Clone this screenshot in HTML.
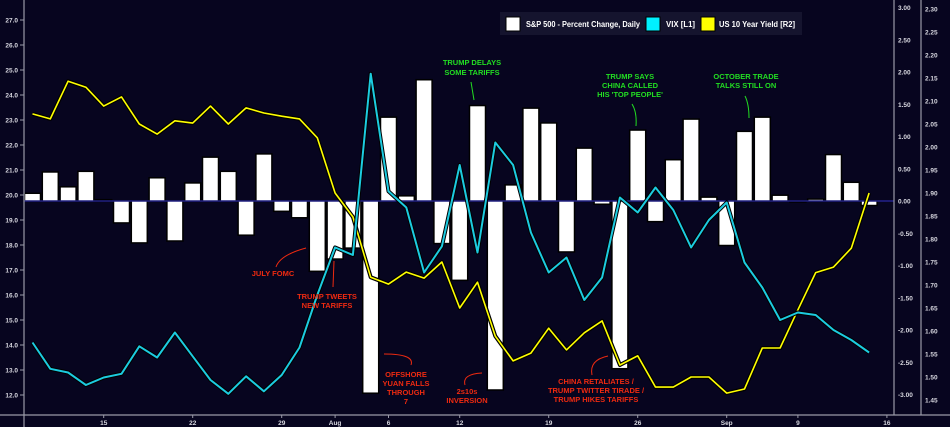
<!DOCTYPE html>
<html><head><meta charset="utf-8"><style>
html,body{margin:0;padding:0;background:#07051f;}
svg{display:block;font-family:"Liberation Sans",sans-serif;}
</style></head><body>
<svg id="chart" width="950" height="427" viewBox="0 0 950 427">
<rect x="0" y="0" width="950" height="427" fill="#07051f"/>
<g id="grid"></g><g id="bars"></g><g id="lines"></g><g id="axes"></g><g id="annos"></g>
<g>
<rect x="500" y="12" width="302" height="23" fill="#15142e"/>
<rect x="506" y="17" width="14" height="14" fill="#fff" stroke="#000"/>
<text x="526" y="27" fill="#fff" font-size="8" font-weight="bold" textLength="114" lengthAdjust="spacingAndGlyphs">S&amp;P 500 - Percent Change, Daily</text>
<rect x="646" y="17" width="14" height="14" fill="#00f0ff" stroke="#000"/>
<text x="666" y="27" fill="#fff" font-size="8" font-weight="bold" textLength="29" lengthAdjust="spacingAndGlyphs">VIX [L1]</text>
<rect x="701" y="17" width="14" height="14" fill="#ffff00" stroke="#000"/>
<text x="719" y="27" fill="#fff" font-size="8" font-weight="bold" textLength="76" lengthAdjust="spacingAndGlyphs">US 10 Year Yield [R2]</text>
</g>
</svg>
<script>
const spChange=[0.12,0.45,0.22,0.46,0.02,-0.34,-0.65,0.36,-0.62,0.28,0.68,0.46,-0.53,0.73,-0.16,-0.26,-1.09,-0.90,-0.73,-2.98,1.30,0.08,1.88,-0.66,-1.23,1.48,-2.93,0.25,1.44,1.21,-0.79,0.82,-0.05,-2.60,1.10,-0.32,0.64,1.27,0.06,-0.69,1.08,1.30,0.09,-0.01,0.03,0.72,0.29,-0.07];
const vix=[14.1,13.05,12.9,12.4,12.7,12.85,13.95,13.5,14.5,13.55,12.6,12.05,12.75,12.15,12.8,13.9,16.0,17.9,17.6,24.85,20.15,19.5,16.9,17.95,21.2,17.7,22.1,21.2,18.5,16.9,17.5,15.8,16.7,19.9,19.3,20.3,19.4,17.9,19.0,19.7,17.3,16.3,15.0,15.3,15.2,14.6,14.2,13.7];
const yld=[2.072,2.061,2.143,2.130,2.089,2.109,2.050,2.028,2.057,2.052,2.089,2.050,2.085,2.074,2.067,2.061,2.02,1.90,1.848,1.717,1.702,1.728,1.715,1.750,1.65,1.706,1.589,1.535,1.552,1.606,1.559,1.596,1.622,1.526,1.546,1.478,1.478,1.50,1.50,1.465,1.474,1.563,1.563,1.646,1.727,1.739,1.780,1.90];
const xTickLabels=["15","22","29","Aug","6","12","19","26","Sep","9","16"];
const xTickIdx=[4,9,14,17,20,24,29,34,39,43,48];
const leftTicks=[12,13,14,15,16,17,18,19,20,21,22,23,24,25,26,27];
const r1Ticks=[3,2.5,2,1.5,1,0.5,0,-0.5,-1,-1.5,-2,-2.5,-3];
const r2Ticks=[2.30,2.25,2.20,2.15,2.10,2.05,2.00,1.95,1.90,1.85,1.80,1.75,1.70,1.65,1.60,1.55,1.50,1.45];

const NS="http://www.w3.org/2000/svg";
const X=i=>32.5+17.8*i;
const yL=v=>195-(v-20)*25;
const yR1=v=>201-v*64.5;
const yR2=v=>193-(v-1.90)*460;
function mk(tag,attrs,parent,txt){const e=document.createElementNS(NS,tag);for(const k in attrs)e.setAttribute(k,attrs[k]);if(txt!==undefined)e.textContent=txt;document.getElementById(parent).appendChild(e);return e;}

spChange.forEach((v,i)=>{
  const y0=yR1(0),y1=yR1(v);
  const b=mk('rect',{x:X(i)-8,y:Math.min(y0,y1),width:16,height:Math.max(Math.abs(y1-y0),1),fill:'#fff',stroke:'#000','stroke-width':1.5},'bars');
  
  
});
const zl=mk('line',{x1:24,x2:894,y1:yR1(0),y2:yR1(0),stroke:'#3030c0','stroke-width':1},'bars');



function line(vals,fy,color,name){
  const d=vals.map((v,i)=>(i?'L':'M')+X(i).toFixed(1)+' '+fy(v).toFixed(1)).join(' ');
  mk('path',{d:d,fill:'none',stroke:'#000','stroke-width':4,'stroke-linejoin':'round'},'lines');
  const p=mk('path',{d:d,fill:'none',stroke:color,'stroke-width':color=='#ffff00'?1.6:2,'stroke-linejoin':'round'},'lines');
  
  
}
line(yld,yR2,'#ffff00','yield-line');
line(vix,yL,'#1ccbe0','vix-line');

[[24,0,24,427],[894,0,894,415],[921,0,921,415],[0,415,950,415]].forEach(a=>{
  const l=mk('line',{x1:a[0],y1:a[1],x2:a[2],y2:a[3],stroke:'#9a9aa8','stroke-width':1.2},'axes');
  
  
});
leftTicks.forEach(v=>{
  const t=mk('text',{x:18,y:yL(v)+2.5,fill:'#d8d8e0','font-size':6.5,'font-weight':'bold','text-anchor':'end'},'axes',v.toFixed(1));
  
  
  mk('line',{x1:20,x2:24,y1:yL(v),y2:yL(v),stroke:'#9a9aa8'},'axes');
});
r1Ticks.forEach(v=>{
  const t=mk('text',{x:898,y:yR1(v)+2.5,fill:'#d8d8e0','font-size':6.5,'font-weight':'bold'},'axes',v.toFixed(2));
  
  
});
r2Ticks.forEach(v=>{
  const t=mk('text',{x:925,y:yR2(v)+2.5,fill:'#d8d8e0','font-size':6.5,'font-weight':'bold'},'axes',v.toFixed(2));
  
  
});
xTickLabels.forEach((s,k)=>{
  const x=X(xTickIdx[k]);
  mk('line',{x1:x,x2:x,y1:415,y2:418,stroke:'#9a9aa8'},'axes');
  const t=mk('text',{x:x,y:425,fill:'#d8d8e0','font-size':6.5,'font-weight':'bold','text-anchor':'middle'},'axes',s);
  
  
});

const annos=[
 [472,[65,75],["TRUMP DELAYS","SOME TARIFFS"],'#22dd22','anno-trump-delays',"M471 82 L474 100"],
 [630,[79,88,97],["TRUMP SAYS","CHINA CALLED","HIS 'TOP PEOPLE'"],'#22dd22','anno-top-people',"M632 104 Q637 112 636 126"],
 [746,[79,88],["OCTOBER TRADE","TALKS STILL ON"],'#22dd22','anno-october-talks',"M745 96 Q749 104 749 118"],
 [273,[276],["JULY FOMC"],'#ee2a10','anno-july-fomc',"M306 248 Q280 255 276 267"],
 [327,[299,308],["TRUMP TWEETS","NEW TARIFFS"],'#ee2a10','anno-trump-tweets',"M334 261 L333 287"],
 [406,[377,386,395,404],["OFFSHORE","YUAN FALLS","THROUGH","7"],'#ee2a10','anno-yuan',"M384 354 Q415 354 411 365"],
 [467,[394,403],["2s10s","INVERSION"],'#ee2a10','anno-inversion',"M465 385 Q462 374 482 373"],
 [596,[384,393,402],["CHINA RETALIATES /","TRUMP TWITTER TIRADE /","TRUMP HIKES TARIFFS"],'#ee2a10','anno-china-retaliates',"M592 375 Q589 360 608 356"]
];
annos.forEach(a=>{
  const p=mk('path',{d:a[5],fill:'none',stroke:a[3],'stroke-width':1},'annos');
  
  
  a[2].forEach((s,k)=>{
    const t=mk('text',{x:a[0],y:a[1][k],fill:a[3],'font-size':7.5,'font-weight':'bold','text-anchor':'middle'},'annos',s);
    
    
  });
});
</script>
</body></html>
